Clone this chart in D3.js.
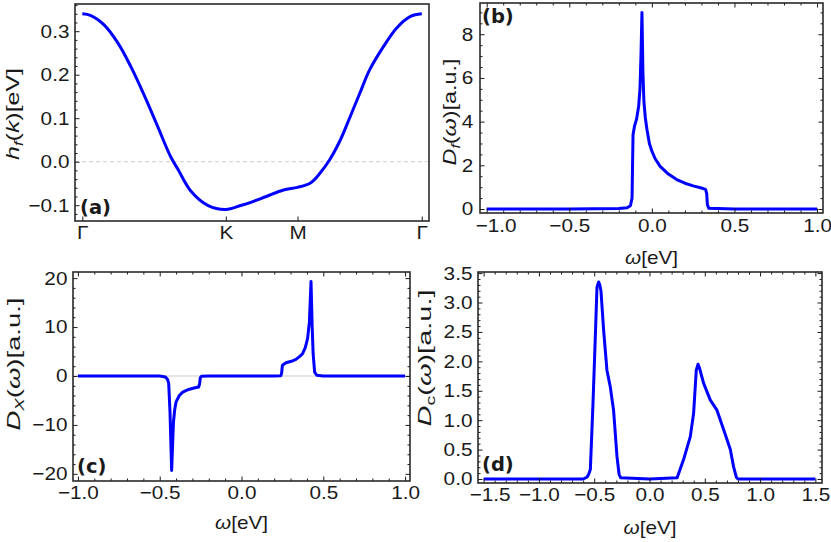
<!DOCTYPE html>
<html lang="en">
<head>
<meta charset="UTF-8" />
<script src="https://d3js.org/d3.v7.min.js"></script>
<title>Band and densities of states</title>
<style>
  body { margin: 0; background: #fff; }
  svg { display: block; }
</style>
</head>
<body>
<svg width="831" height="542"></svg>
<script>
// ---- (a) f band along Γ-K-M-Γ (x = path length, units 1/a)
const kTicks = [0, 4 / 3, 2, 2 + 2 / Math.sqrt(3)];
const kTickLabels = ["Γ", "K", "M", "Γ"];
const kPath = [0, 0.08, 0.2, 0.33, 0.45, 0.58, 0.70, 0.82, 0.89, 1.01, 1.17, 1.333, 1.48, 1.56,
  1.71, 1.87, 2.0, 2.12, 2.21, 2.30, 2.40, 2.49, 2.58, 2.67, 2.80, 2.92, 3.05, 3.155];
const hF = [0.340, 0.336, 0.315, 0.273, 0.219, 0.150, 0.081, 0.012, -0.018, -0.068, -0.101, -0.110, -0.100, -0.094,
  -0.080, -0.065, -0.059, -0.049, -0.026, 0.005, 0.051, 0.104, 0.158, 0.211, 0.265, 0.307, 0.334, 0.340];
const hTicks = [-0.1, 0, 0.1, 0.2, 0.3];

// ---- (b) f density of states
const wF = [-1.0, -0.5, -0.2, -0.15, -0.13, -0.12, -0.117, -0.114, -0.105, -0.093, -0.08, -0.072, -0.066, -0.06,
  -0.054, -0.048, -0.04, -0.03, -0.015, 0.0, 0.02, 0.05, 0.1, 0.15, 0.2, 0.25, 0.3, 0.325, 0.332, 0.336, 0.345, 0.5, 1.0];
const dF = [0, 0, 0.02, 0.06, 0.15, 0.5, 2.0, 3.4, 3.8, 4.1, 4.7, 5.5, 7.0, 9.0,
  6.2, 4.9, 4.2, 3.65, 3.0, 2.65, 2.3, 1.95, 1.6, 1.35, 1.18, 1.06, 0.96, 0.9, 0.7, 0.2, 0.03, 0, 0];
const bYTicks = [0, 2, 4, 6, 8];

// ---- (c) hybridisation density
const wX = [-1.0, -0.5, -0.465, -0.452, -0.445, -0.437, -0.427, -0.416, -0.408, -0.40, -0.38, -0.359, -0.34, -0.318,
  -0.29, -0.262, -0.256, -0.252, -0.245, -0.2, 0.2, 0.24, 0.245, 0.25, 0.272, 0.305, 0.333, 0.36, 0.374, 0.39,
  0.404, 0.415, 0.425, 0.432, 0.438, 0.447, 0.46, 0.5, 1.0];
const dX = [0, 0, -0.2, -0.7, -1.5, -7.4, -19.3, -9.4, -6.8, -5.3, -4.0, -3.3, -3.0, -2.7,
  -2.45, -2.25, -1.6, -0.4, -0.05, 0, 0, 0.05, 0.5, 2.2, 2.7, 3.0, 3.4, 4.1, 4.6, 5.8,
  7.7, 11, 19.3, 10, 4.5, 0.8, 0.15, 0, 0];
const cYTicks = [-20, -10, 0, 10, 20];
const omegaTicks = [-1, -0.5, 0, 0.5, 1];

// ---- (d) c density of states
const wC = [-1.5, -0.6, -0.565, -0.55, -0.535, -0.511, -0.49, -0.475, -0.46, -0.45, -0.439, -0.415, -0.385, -0.355,
  -0.325, -0.294, -0.275, -0.26, 0, 0.25, 0.308, 0.369, 0.399, 0.423, 0.439, 0.45, 0.489, 0.55, 0.61, 0.67,
  0.731, 0.76, 0.785, 0.8, 1.5];
const dC = [0, 0, 0.03, 0.08, 0.16, 1.29, 2.42, 3.26, 3.35, 3.3, 3.2, 2.53, 1.85, 1.57,
  1.17, 0.38, 0.08, 0.02, 0, 0.02, 0.33, 0.72, 1.12, 1.85, 1.95, 1.9, 1.63, 1.34, 1.17, 0.84,
  0.5, 0.21, 0.03, 0, 0];
const dXTicks = [-1.5, -1, -0.5, 0, 0.5, 1, 1.5];
const dYTicks = [0, 0.5, 1, 1.5, 2, 2.5, 3, 3.5];

const svg = d3.select("svg");
const FONT = "'Liberation Sans', Arial, sans-serif";
const INK = "#1a1a1a";
const STRETCH = 1.12;
const MAJOR = 4.5, MINOR = 2.5;

// minor ticks every `step`, skipping the majors
function minors(lo, hi, step, majors) {
  const n0 = Math.ceil(lo / step - 1e-9), n1 = Math.floor(hi / step + 1e-9);
  return d3.range(n0, n1 + 1).map(i => +(i * step).toFixed(6))
    .filter(v => !majors.some(m => Math.abs(m - v) < 1e-6));
}

function panel(o) {
  const { l, r, t, b } = o.box;
  const x = d3.scaleLinear().domain(o.xDomain).range([l, r]);
  const y = d3.scaleLinear().domain(o.yDomain).range([b, t]);
  const g = svg.append("g");

  if (o.zeroLine) {
    g.append("line")
      .attr("x1", l).attr("x2", r).attr("y1", y(0)).attr("y2", y(0))
      .attr("stroke", "#cccccc").attr("stroke-width", 1)
      .attr("stroke-dasharray", o.zeroLine === "dash" ? "4,3" : null);
  }

  g.append("path")
    .datum(d3.zip(o.xs, o.ys))
    .attr("fill", "none")
    .attr("stroke", "#0000ff")
    .attr("stroke-width", 3)
    .attr("stroke-linejoin", "round")
    .attr("d", d3.line().x(d => x(d[0])).y(d => y(d[1])).curve(o.curve || d3.curveLinear));

  const axis = (gen, scale, tx, ty, values, size, fmt) => {
    const a = g.append("g")
      .attr("transform", `translate(${tx},${ty})`)
      .call(gen(scale).tickValues(values).tickSize(-size).tickPadding(o.pad || 5).tickFormat(fmt || ""));
    a.select(".domain").remove();
    a.selectAll("line").attr("stroke", INK).attr("stroke-width", 1);
    a.selectAll("text")
      .attr("font-family", FONT).attr("font-size", 18.5).attr("fill", INK)
      .attr("transform", `scale(${STRETCH},1)`);
    return a;
  };

  const bottom = axis(d3.axisBottom, x, 0, b, o.xMajor, MAJOR, o.xFmt);
  // the corner label is nudged right, clear of the last y label
  if (o.firstShift) {
    bottom.selectAll(".tick text").filter((d, i) => i === 0).attr("x", o.firstShift / STRETCH);
  }
  axis(d3.axisLeft, y, l, 0, o.yMajor, MAJOR, o.yFmt);
  if (o.xMinor) axis(d3.axisBottom, x, 0, b, o.xMinor, MINOR);
  if (o.yMinor) axis(d3.axisLeft, y, l, 0, o.yMinor, MINOR);
  if (o.mirror) {
    axis(d3.axisTop, x, 0, t, o.xMajor, MAJOR);
    axis(d3.axisRight, y, r, 0, o.yMajor, MAJOR);
    axis(d3.axisTop, x, 0, t, o.xMinor, MINOR);
    axis(d3.axisRight, y, r, 0, o.yMinor, MINOR);
  }

  g.append("rect")
    .attr("x", l).attr("y", t).attr("width", r - l).attr("height", b - t)
    .attr("fill", "none").attr("stroke", "#2a2a2a").attr("stroke-width", 1.6);

  g.append("text")
    .attr("x", o.tag[1]).attr("y", o.tag[2])
    .attr("font-family", "'DejaVu Sans', sans-serif").attr("font-weight", "bold")
    .attr("font-size", 19.5).attr("fill", INK)
    .text(o.tag[0]);

  if (o.xTitle) {
    const xt = g.append("text")
      .attr("transform", `translate(${(l + r) / 2},${o.xTitle})`)
      .attr("text-anchor", "middle")
      .attr("font-family", FONT).attr("font-size", 19).attr("fill", INK)
      .attr("textLength", 53).attr("lengthAdjust", "spacingAndGlyphs");
    xt.append("tspan").attr("font-style", "italic").text("ω");
    xt.append("tspan").text("[eV]");
  }

  const yt = g.append("text")
    .attr("transform", `translate(${o.yTitle.x},${o.yTitle.y}) rotate(-90)`)
    .attr("text-anchor", "middle")
    .attr("font-family", FONT).attr("font-size", 18.5).attr("fill", INK)
    .attr("textLength", o.yTitle.len).attr("lengthAdjust", "spacingAndGlyphs");
  o.yTitle.parts.forEach(([txt, style]) => {
    const s = yt.append("tspan").text(txt);
    if (style && style.includes("i")) s.attr("font-style", "italic");
    if (style && style.includes("s")) s.attr("font-size", 12.5).attr("dy", 4);
    if (style && style.includes("u")) s.attr("dy", -4);
  });
}

const f1 = d3.format(".1f");
const f0 = d3.format("d");

panel({
  box: { l: 75, r: 429, t: 4, b: 221 },
  xDomain: [-0.068, 3.222], yDomain: [-0.1363, 0.3625],
  xs: kPath, ys: hF, curve: d3.curveCatmullRom.alpha(0.5),
  xMajor: kTicks, xFmt: (d, i) => kTickLabels[i],
  yMajor: hTicks, yFmt: f1,
  yMinor: minors(-0.136, 0.362, 0.02, hTicks),
  zeroLine: "dash",
  tag: ["(a)", 80, 214],
  yTitle: { x: 19, y: 114, len: 92, parts: [["h", "i"], ["f", "is"], ["(", "u"], ["k", "i"], [")[eV]"]] }
});

panel({
  box: { l: 480, r: 823, t: 3, b: 213 },
  xDomain: [-1.0405, 1.036], yDomain: [-0.183, 9.43],
  xs: wF, ys: dF, pad: 6, firstShift: 9,
  xMajor: omegaTicks, xFmt: f1,
  yMajor: bYTicks, yFmt: f0,
  xMinor: minors(-1.04, 1.03, 0.1, omegaTicks),
  yMinor: minors(-0.18, 9.4, 0.5, bYTicks),
  mirror: true,
  tag: ["(b)", 482, 23],
  xTitle: 264,
  yTitle: { x: 456, y: 112, len: 107, parts: [["D", "i"], ["f", "is"], ["(", "u"], ["ω", "i"], [")[a.u.]"]] }
});

panel({
  box: { l: 73, r: 410, t: 272, b: 481 },
  xDomain: [-1.03, 1.03], yDomain: [-21.46, 21.25],
  xs: wX, ys: dX,
  xMajor: omegaTicks, xFmt: f1,
  yMajor: cYTicks, yFmt: f0,
  xMinor: minors(-1.03, 1.03, 0.1, omegaTicks),
  yMinor: minors(-21.4, 21.2, 2, cYTicks),
  mirror: true, zeroLine: "solid",
  tag: ["(c)", 77, 473],
  xTitle: 529,
  yTitle: { x: 19.5, y: 364, len: 133, parts: [["D", "i"], ["X", "is"], ["(", "u"], ["ω", "i"], [")[a.u.]"]] }
});

panel({
  box: { l: 478, r: 822, t: 272, b: 483 },
  xDomain: [-1.551, 1.56], yDomain: [-0.068, 3.519],
  xs: wC, ys: dC, firstShift: 6,
  xMajor: dXTicks, xFmt: f1,
  yMajor: dYTicks, yFmt: f1,
  xMinor: minors(-1.55, 1.55, 0.1, dXTicks),
  yMinor: minors(-0.06, 3.51, 0.1, dYTicks),
  mirror: true,
  tag: ["(d)", 482, 471],
  xTitle: 534,
  yTitle: { x: 431, y: 358, len: 137, parts: [["D", "i"], ["c", "s"], ["(", "u"], ["ω", "i"], [")[a.u.]"]] }
});
</script>
</body>
</html>
